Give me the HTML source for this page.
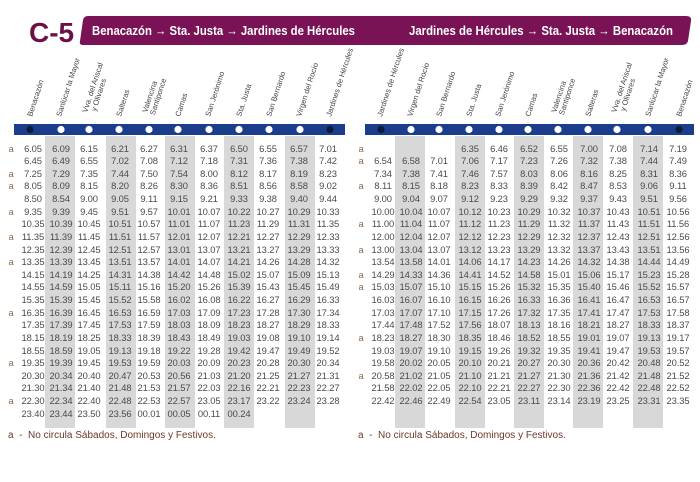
<!DOCTYPE html>
<html><head><meta charset="utf-8"><style>
html,body{margin:0;padding:0;background:#fff;}
body{width:700px;height:482px;position:relative;overflow:hidden;font-family:"Liberation Sans",sans-serif;}
.c{position:absolute;top:142.5px;width:40px;margin-left:-20px;text-align:center;line-height:12.62px;font-size:9.4px;color:#4a4a4a;white-space:pre-line;letter-spacing:-0.1px}
.a{color:#8a6a50}
.b{position:absolute;top:136px;height:292px;width:30px;background:#d8d8d8}
.fn{position:absolute;top:430px;font-size:10px;color:#6b3a2a;}
</style></head><body>
<svg width="700" height="482" style="position:absolute;left:0;top:0">
<text x="29" y="42" font-family="Liberation Sans" font-weight="bold" font-size="28" fill="#6e1048">C-5</text>
<path d="M88,16 L686,16 Q692,16 691,21 L688,41 Q687,45 682,45 L83,45 Q79,45 80,41 L83,20 Q84,16 88,16 Z" fill="#7a1355"/>
<text x="92" y="35" font-family="Liberation Sans" font-weight="bold" font-size="12.5" fill="#fff" textLength="263" lengthAdjust="spacingAndGlyphs">Benacazón → Sta. Justa → Jardines de Hércules</text>
<text x="409" y="35" font-family="Liberation Sans" font-weight="bold" font-size="12.5" fill="#fff" textLength="264" lengthAdjust="spacingAndGlyphs">Jardines de Hércules → Sta. Justa → Benacazón</text>
<rect x="14" y="124" width="331" height="11" fill="#1c3d8c"/>
<rect x="365" y="124" width="329" height="11" fill="#1c3d8c"/>
<g fill="#fff">
<circle cx="30" cy="129.5" r="3.6" fill="#0d1a3a"/><circle cx="61" cy="129.5" r="3.6"/><circle cx="89" cy="129.5" r="3.6"/><circle cx="119" cy="129.5" r="3.6"/><circle cx="149" cy="129.5" r="3.6"/><circle cx="178" cy="129.5" r="3.6"/><circle cx="209" cy="129.5" r="3.6"/><circle cx="239" cy="129.5" r="3.6"/><circle cx="269" cy="129.5" r="3.6"/><circle cx="300" cy="129.5" r="3.6"/><circle cx="330" cy="129.5" r="3.6" fill="#0d1a3a"/>
<circle cx="381" cy="129.5" r="3.6" fill="#0d1a3a"/><circle cx="411" cy="129.5" r="3.6"/><circle cx="439" cy="129.5" r="3.6"/><circle cx="469" cy="129.5" r="3.6"/><circle cx="499" cy="129.5" r="3.6"/><circle cx="528" cy="129.5" r="3.6"/><circle cx="558" cy="129.5" r="3.6"/><circle cx="588" cy="129.5" r="3.6"/><circle cx="617" cy="129.5" r="3.6"/><circle cx="648" cy="129.5" r="3.6"/><circle cx="679" cy="129.5" r="3.6" fill="#0d1a3a"/>
</g>
<g font-family="Liberation Sans" font-size="7.6" fill="#444">
<text transform="translate(32,117) rotate(-72)">Benacazón</text>
<text transform="translate(61,117) rotate(-72)">Sanlúcar la Mayor</text>
<text transform="translate(87,113) rotate(-72)">Vva. del Ariscal<tspan x="4" dy="8">y Olivares</tspan></text>
<text transform="translate(121,117) rotate(-72)">Salteras</text>
<text transform="translate(147,113) rotate(-72)">Valencina<tspan x="0" dy="8">Santiponce</tspan></text>
<text transform="translate(180,117) rotate(-72)">Camas</text>
<text transform="translate(210,117) rotate(-72)">San Jerónimo</text>
<text transform="translate(241,117) rotate(-72)">Sta. Justa</text>
<text transform="translate(271,117) rotate(-72)">San Bernardo</text>
<text transform="translate(301,117) rotate(-72)">Virgen del Rocío</text>
<text transform="translate(331,117) rotate(-72)">Jardines de Hércules</text>
<text transform="translate(382,117) rotate(-72)">Jardines de Hércules</text>
<text transform="translate(412,117) rotate(-72)">Virgen del Rocío</text>
<text transform="translate(441,117) rotate(-72)">San Bernardo</text>
<text transform="translate(471,117) rotate(-72)">Sta. Justa</text>
<text transform="translate(500,117) rotate(-72)">San Jerónimo</text>
<text transform="translate(530,117) rotate(-72)">Camas</text>
<text transform="translate(556,113) rotate(-72)">Valencina<tspan x="0" dy="8">Santiponce</tspan></text>
<text transform="translate(590,117) rotate(-72)">Salteras</text>
<text transform="translate(616,113) rotate(-72)">Vva. del Ariscal<tspan x="4" dy="8">y Olivares</tspan></text>
<text transform="translate(650,117) rotate(-72)">Sanlúcar la Mayor</text>
<text transform="translate(681,117) rotate(-72)">Benacazón</text>
</g>
</svg>
<div class="b" style="left:45px"></div><div class="b" style="left:106px"></div><div class="b" style="left:165px"></div><div class="b" style="left:224px"></div><div class="b" style="left:285px"></div>
<div class="b" style="left:395px"></div><div class="b" style="left:455px"></div><div class="b" style="left:514px"></div><div class="b" style="left:573px"></div><div class="b" style="left:633px"></div>

<div class="c a" style="left:11px">a

a
a

a

a

a



a



a


a
</div>
<div class="c" style="left:33px">6.05
6.45
7.25
8.05
8.50
9.35
10.35
11.35
12.35
13.35
14.15
14.55
15.35
16.35
17.35
18.15
18.55
19.35
20.30
21.30
22.30
23.40</div>
<div class="c" style="left:61px">6.09
6.49
7.29
8.09
8.54
9.39
10.39
11.39
12.39
13.39
14.19
14.59
15.39
16.39
17.39
18.19
18.59
19.39
20.34
21.34
22.34
23.44</div>
<div class="c" style="left:89px">6.15
6.55
7.35
8.15
9.00
9.45
10.45
11.45
12.45
13.45
14.25
15.05
15.45
16.45
17.45
18.25
19.05
19.45
20.40
21.40
22.40
23.50</div>
<div class="c" style="left:120px">6.21
7.02
7.44
8.20
9.05
9.51
10.51
11.51
12.51
13.51
14.31
15.11
15.52
16.53
17.53
18.33
19.13
19.53
20.47
21.48
22.48
23.56</div>
<div class="c" style="left:149px">6.27
7.08
7.50
8.26
9.11
9.57
10.57
11.57
12.57
13.57
14.38
15.16
15.58
16.59
17.59
18.39
19.18
19.59
20.53
21.53
22.53
00.01</div>
<div class="c" style="left:179px">6.31
7.12
7.54
8.30
9.15
10.01
11.01
12.01
13.01
14.01
14.42
15.20
16.02
17.03
18.03
18.43
19.22
20.03
20.56
21.57
22.57
00.05</div>
<div class="c" style="left:209px">6.37
7.18
8.00
8.36
9.21
10.07
11.07
12.07
13.07
14.07
14.48
15.26
16.08
17.09
18.09
18.49
19.28
20.09
21.03
22.03
23.05
00.11</div>
<div class="c" style="left:239px">6.50
7.31
8.12
8.51
9.33
10.22
11.23
12.21
13.21
14.21
15.02
15.39
16.22
17.23
18.23
19.03
19.42
20.23
21.20
22.16
23.17
00.24</div>
<div class="c" style="left:268px">6.55
7.36
8.17
8.56
9.38
10.27
11.29
12.27
13.27
14.26
15.07
15.43
16.27
17.28
18.27
19.08
19.47
20.28
21.25
22.21
23.22</div>
<div class="c" style="left:299px">6.57
7.38
8.19
8.58
9.40
10.29
11.31
12.29
13.29
14.28
15.09
15.45
16.29
17.30
18.29
19.10
19.49
20.30
21.27
22.23
23.24</div>
<div class="c" style="left:328px">7.01
7.42
8.23
9.02
9.44
10.33
11.35
12.33
13.33
14.32
15.13
15.49
16.33
17.34
18.33
19.14
19.52
20.34
21.31
22.27
23.28</div>

<div class="c a" style="left:361px">a
a

a


a

a

a
a



a


a
</div>
<div class="c" style="left:383px">&#8203;
6.54
7.34
8.11
9.00
10.00
11.00
12.00
13.00
13.54
14.29
15.03
16.03
17.03
17.44
18.23
19.03
19.58
20.58
21.58
22.42</div>
<div class="c" style="left:411px">&#8203;
6.58
7.38
8.15
9.04
10.04
11.04
12.04
13.04
13.58
14.33
15.07
16.07
17.07
17.48
18.27
19.07
20.02
21.02
22.02
22.46</div>
<div class="c" style="left:439px">&#8203;
7.01
7.41
8.18
9.07
10.07
11.07
12.07
13.07
14.01
14.36
15.10
16.10
17.10
17.52
18.30
19.10
20.05
21.05
22.05
22.49</div>
<div class="c" style="left:470px">6.35
7.06
7.46
8.23
9.12
10.12
11.12
12.12
13.12
14.06
14.41
15.15
16.15
17.15
17.56
18.35
19.15
20.10
21.10
22.10
22.54</div>
<div class="c" style="left:499px">6.46
7.17
7.57
8.33
9.23
10.23
11.23
12.23
13.23
14.17
14.52
15.26
16.26
17.26
18.07
18.46
19.26
20.21
21.21
22.21
23.05</div>
<div class="c" style="left:529px">6.52
7.23
8.03
8.39
9.29
10.29
11.29
12.29
13.29
14.23
14.58
15.32
16.33
17.32
18.13
18.52
19.32
20.27
21.27
22.27
23.11</div>
<div class="c" style="left:559px">6.55
7.26
8.06
8.42
9.32
10.32
11.32
12.32
13.32
14.26
15.01
15.35
16.36
17.35
18.16
18.55
19.35
20.30
21.30
22.30
23.14</div>
<div class="c" style="left:589px">7.00
7.32
8.16
8.47
9.37
10.37
11.37
12.37
13.37
14.32
15.06
15.40
16.41
17.41
18.21
19.01
19.41
20.36
21.36
22.36
23.19</div>
<div class="c" style="left:618px">7.08
7.38
8.25
8.53
9.43
10.43
11.43
12.43
13.43
14.38
15.17
15.46
16.47
17.47
18.27
19.07
19.47
20.42
21.42
22.42
23.25</div>
<div class="c" style="left:649px">7.14
7.44
8.31
9.06
9.51
10.51
11.51
12.51
13.51
14.44
15.23
15.52
16.53
17.53
18.33
19.13
19.53
20.48
21.48
22.48
23.31</div>
<div class="c" style="left:678px">7.19
7.49
8.36
9.11
9.56
10.56
11.56
12.56
13.56
14.49
15.28
15.57
16.57
17.58
18.37
19.17
19.57
20.52
21.52
22.52
23.35</div>

<div class="fn" style="left:8px">a &nbsp;- &nbsp;No circula Sábados, Domingos y Festivos.</div>
<div class="fn" style="left:358px">a &nbsp;- &nbsp;No circula Sábados, Domingos y Festivos.</div>
</body></html>
